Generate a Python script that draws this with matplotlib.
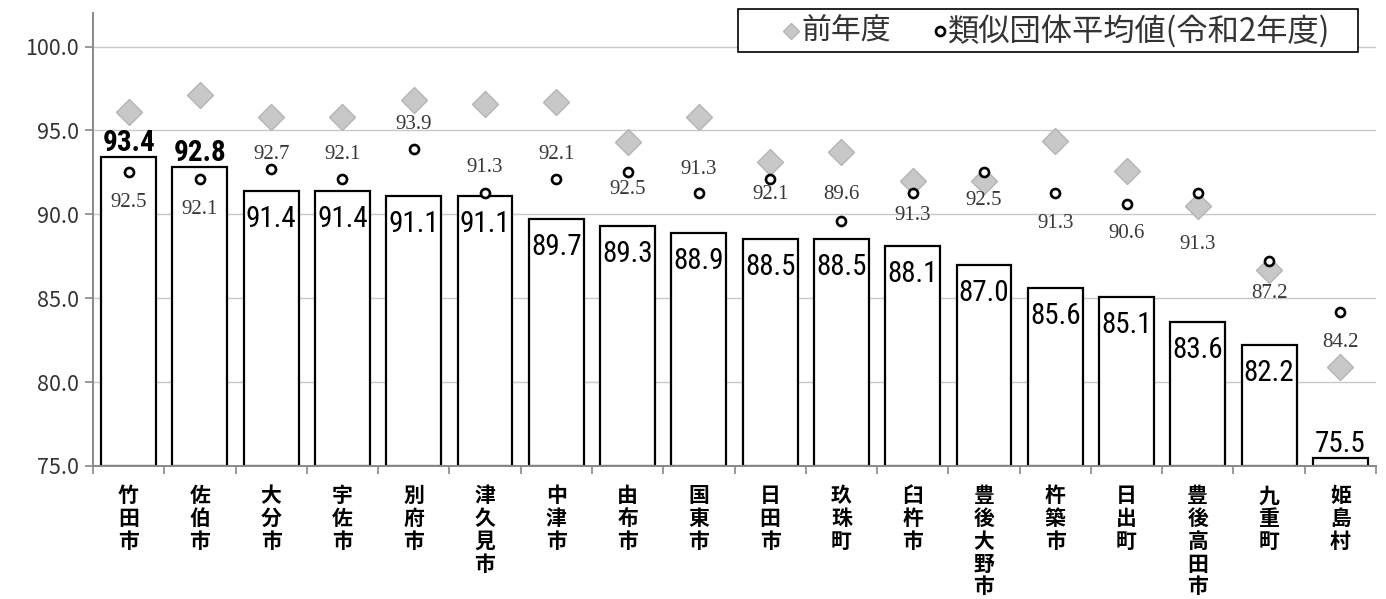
import matplotlib
matplotlib.use("Agg")
import matplotlib.pyplot as plt
from matplotlib import font_manager
from matplotlib.lines import Line2D
from matplotlib.patches import Rectangle

categories = ["竹田市", "佐伯市", "大分市", "宇佐市", "別府市", "津久見市", "中津市", "由布市", "国東市",
              "日田市", "玖珠町", "臼杵市", "豊後大野市", "杵築市", "日出町", "豊後高田市", "九重町", "姫島村"]
current = [93.4, 92.8, 91.4, 91.4, 91.1, 91.1, 89.7, 89.3, 88.9, 88.5, 88.5, 88.1, 87.0, 85.6, 85.1, 83.6, 82.2, 75.5]
previous = [96.1, 97.1, 95.8, 95.8, 96.8, 96.6, 96.7, 94.3, 95.8, 93.1, 93.7, 92.0, 92.0, 94.4, 92.6, 90.5, 86.7, 80.9]
similar = [92.5, 92.1, 92.7, 92.1, 93.9, 91.3, 92.1, 92.5, 91.3, 92.1, 89.6, 91.3, 92.5, 91.3, 90.6, 91.3, 87.2, 84.2]
yticks = [75.0, 80.0, 85.0, 90.0, 95.0, 100.0]
legend_labels = ["前年度", "類似団体平均値(令和2年度)"]

# label placement (style): bar label above bar or inside; similar-label vertical offset in px
bar_label_above = {0, 1, 17}
similar_offsets_px = [-30, -30, 15, 25, 24, 25, 25, -17, 23, -15, 27, -23, -28, -31, -29, -52, -32, -31]

avail = {f.name for f in font_manager.fontManager.ttflist}
def pick(*names):
    for n in names:
        if n in avail:
            return n
    return "DejaVu Sans"

JP = "Noto Sans CJK JP"
narrow = pick("Liberation Sans Narrow", "DejaVu Sans Condensed", "Roboto Condensed", "Liberation Sans")
serif = pick("Liberation Serif", "DejaVu Serif")

plt.rcParams['font.family'] = [JP, 'DejaVu Sans']

DPI = 100
PX = 72 / DPI
W, H = 1386, 599

fig = plt.figure(figsize=(W / DPI, H / DPI), dpi=DPI)
ax = fig.add_axes([93/W, 1-466/H, (1376-93)/W, (466-13)/H])

x = list(range(len(categories)))
ax.bar(x, [c - 75 for c in current], bottom=75, width=0.77, color="white", edgecolor="black",
       linewidth=1.6, zorder=2)
ax.plot(x, previous, linestyle="none", marker="D", markersize=13, markerfacecolor="#C8C8C8",
        markeredgecolor="#B4B4B4", markeredgewidth=1, zorder=3)
ax.plot(x, similar, linestyle="none", marker="o", markersize=6.5, markerfacecolor="white",
        markeredgecolor="black", markeredgewidth=1.9, zorder=4)

for i, v in enumerate(current):
    if i in bar_label_above:
        ax.annotate(f"{v:.1f}", (i, v), xytext=(0, 14 * PX), textcoords="offset points",
                    ha="center", va="center", fontsize=21,
                    fontweight="bold" if i < 2 else "normal", family=narrow,
                    color="black", zorder=5)
    else:
        ax.annotate(f"{v:.1f}", (i, v), xytext=(0, -28 * PX), textcoords="offset points",
                    ha="center", va="center", fontsize=21, family=narrow,
                    color="black", zorder=5)

for i, v in enumerate(similar):
    ax.annotate(f"{v:.1f}", (i, v), xytext=(0, similar_offsets_px[i] * PX), textcoords="offset points",
                ha="center", va="center", fontsize=15, family=serif, color="#383838", zorder=5)

ax.set_xlim(-0.5, len(categories) - 0.5)
ax.set_ylim(75, 102)
ax.set_yticks(yticks)
ax.set_yticklabels([f"{t:.1f}" for t in yticks], fontsize=15.5, color="#333333")
ax.yaxis.grid(True, color="#C8C8C8", linewidth=1.0, zorder=0)
ax.set_axisbelow(True)

ax.set_xticks(x)
ax.set_xticklabels(["\n".join(c) for c in categories], fontsize=15, fontweight="bold",
                   va="top", linespacing=1.1)
ax.tick_params(axis="x", which="major", length=0, pad=14)
ax.set_xticks([i - 0.5 for i in range(len(categories) + 1)], minor=True)
ax.tick_params(axis="x", which="minor", length=6, color="#888888", width=1.2)
ax.tick_params(axis="y", length=6, color="#888888", width=1.2, pad=4)

for s in ["top", "right"]:
    ax.spines[s].set_visible(False)
for s in ["left", "bottom"]:
    ax.spines[s].set_color("#888888")
    ax.spines[s].set_linewidth(1.4)

# legend box drawn in figure pixel coordinates
def fx(p):
    return p / W
def fy(p):
    return 1 - p / H

fig.patches.append(Rectangle((fx(738), fy(52)), fx(1358) - fx(738), fy(9) - fy(52),
                             transform=fig.transFigure, facecolor="white", edgecolor="black",
                             linewidth=1.2, zorder=10))
fig.lines.append(Line2D([fx(791)], [fy(31)], transform=fig.transFigure, linestyle="none",
                        marker="D", markersize=8, markerfacecolor="#C8C8C8",
                        markeredgecolor="#B4B4B4", zorder=11))
fig.text(fx(801), fy(31), legend_labels[0], fontsize=21.5, color="#333333", ha="left", va="center",
         zorder=11)
fig.lines.append(Line2D([fx(940)], [fy(31)], transform=fig.transFigure, linestyle="none",
                        marker="o", markersize=6.5, markerfacecolor="white",
                        markeredgecolor="black", markeredgewidth=1.9, zorder=11))
fig.text(fx(948), fy(31), legend_labels[1], fontsize=22.5, color="#333333", ha="left", va="center",
         zorder=11)

fig.savefig("out.png", dpi=DPI, facecolor="white")
